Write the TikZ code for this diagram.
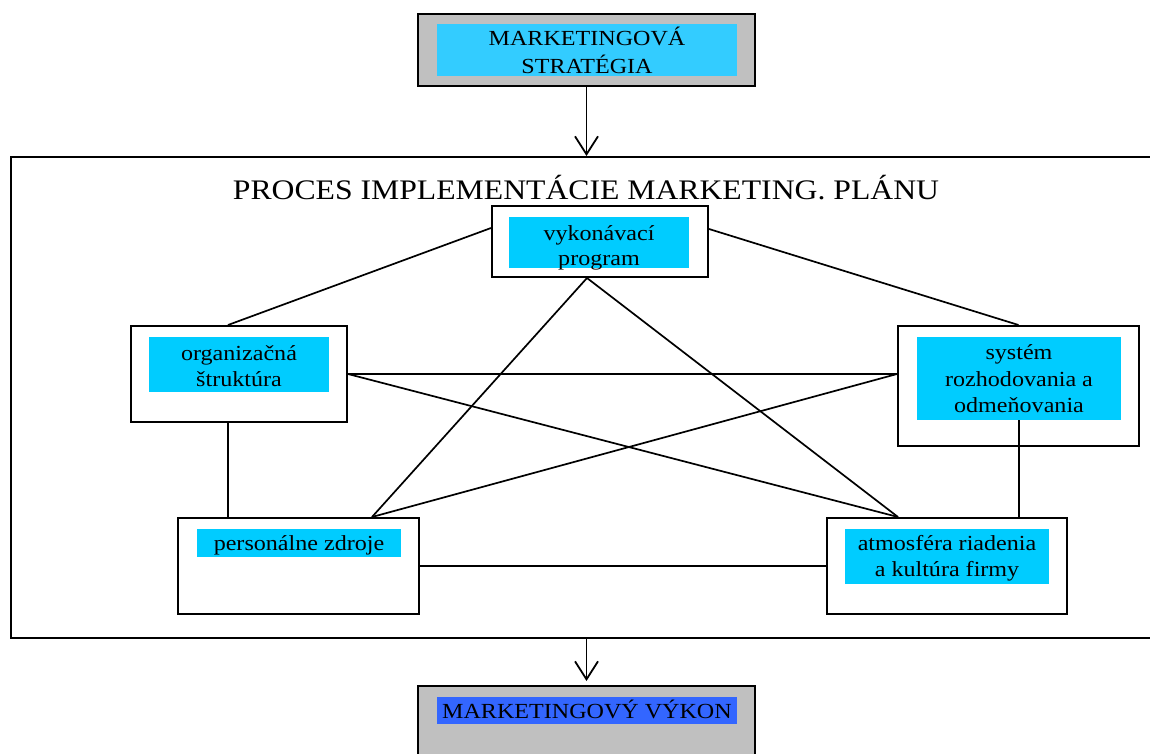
\documentclass[tikz,border=0pt]{standalone}
\usepackage{fontspec}
\setmainfont{Liberation Serif}[FakeStretch=1.12]
\usetikzlibrary{arrows.meta}
\definecolor{boxcyan}{HTML}{00CCFF}
\definecolor{topcyan}{HTML}{33CCFF}
\definecolor{boxgray}{HTML}{C0C0C0}
\definecolor{boxblue}{HTML}{3366FF}
\begin{document}
\begin{tikzpicture}[x=1pt,y=-1pt,
  frame/.style={draw=black,line width=2pt,inner sep=0pt},
  fillbox/.style={inner sep=0pt},
  boxtext/.style={anchor=base,inner sep=0pt,font=\fontsize{21.5}{26}\selectfont},
  link/.style={line width=1.7pt},
  flow/.style={line width=1.8pt,-{Straight Barb[length=18pt,width=23pt,line width=1.8pt]}}]
\useasboundingbox (0,0) rectangle (1150,754);
% outer process frame
\node[frame,minimum width=1159pt,minimum height=481pt] (outer) at (590.5,397.5) {};
\node[anchor=base,inner sep=0pt,font=\fontsize{28.3}{32}\selectfont] (title) at (586,199) {PROCES IMPLEMENTÁCIE MARKETING. PLÁNU};
% top box
\node[frame,fill=boxgray,minimum width=337pt,minimum height=72pt] (top) at (586.5,50) {};
\node[fillbox,fill=topcyan,minimum width=300pt,minimum height=52pt] (topc) at (587,50) {};
\node[boxtext] (topt1) at (587,46) {MARKETINGOVÁ};
\node[boxtext] (topt2) at (587,74) {STRATÉGIA};
% bottom box
\node[frame,fill=boxgray,minimum width=337pt,minimum height=94pt] (bot) at (586.5,733) {};
\node[fillbox,fill=boxblue,minimum width=300pt,minimum height=27pt] (botc) at (587,710.5) {};
\node[boxtext] (bott) at (587,718) {MARKETINGOVÝ VÝKON};
% inner boxes
\node[frame,minimum width=216pt,minimum height=71pt] (vyk) at (600,241.5) {};
\node[fillbox,fill=boxcyan,minimum width=180pt,minimum height=51pt] (vykc) at (599,242.5) {};
\node[boxtext] (vykt1) at (599,240) {vykonávací};
\node[boxtext] (vykt2) at (599,265) {program};

\node[frame,minimum width=216pt,minimum height=96pt] (org) at (239,374) {};
\node[fillbox,fill=boxcyan,minimum width=180pt,minimum height=55pt] (orgc) at (239,364.5) {};
\node[boxtext] (orgt1) at (239,360) {organizačná};
\node[boxtext] (orgt2) at (239,386) {štruktúra};

\node[frame,minimum width=241pt,minimum height=120pt] (sys) at (1018.5,386) {};
\node[fillbox,fill=boxcyan,minimum width=204pt,minimum height=83pt] (sysc) at (1019,378.5) {};
\node[boxtext] (syst1) at (1019,359) {systém};
\node[boxtext] (syst2) at (1019,386) {rozhodovania a};
\node[boxtext] (syst3) at (1019,412) {odmeňovania};

\node[frame,minimum width=241pt,minimum height=96pt] (pers) at (298.5,566) {};
\node[fillbox,fill=boxcyan,minimum width=204pt,minimum height=28pt] (persc) at (299,543) {};
\node[boxtext] (perst) at (299,550) {personálne zdroje};

\node[frame,minimum width=240pt,minimum height=96pt] (atm) at (947,566) {};
\node[fillbox,fill=boxcyan,minimum width=204pt,minimum height=55pt] (atmc) at (947,556.5) {};
\node[boxtext] (atmt1) at (947,550) {atmosféra riadenia};
\node[boxtext] (atmt2) at (947,576) {a kultúra firmy};
% flow arrows
\draw[flow] (top.south) -- (top.south |- outer.north);
\draw[flow] (outer.south -| bot.north) -- ([yshift=4pt]bot.north);
% connectors
\draw[link] ([yshift=-23pt]vyk.north west) -- ([xshift=-11pt]org.north);
\draw[link] ([yshift=-24pt]vyk.north east) -- (sys.north);
\draw[link] ([xshift=-13pt]vyk.south) -- ([xshift=73.5pt]pers.north);
\draw[link] ([xshift=-13pt]vyk.south) -- ([xshift=-49pt]atm.north);
\draw[link] (org.east) -- ([yshift=12pt]sys.west);
\draw[link] (org.east) -- ([xshift=-49pt]atm.north);
\draw[link] ([yshift=12pt]sys.west) -- ([xshift=73.5pt]pers.north);
\draw[link] ([xshift=-11pt]org.south) -- ([xshift=-11pt]org.south |- pers.north);
\draw[link] (sysc.south) -- (sysc.south |- atm.north);
\draw[link] (pers.east) -- (atm.west);
\end{tikzpicture}
\end{document}
